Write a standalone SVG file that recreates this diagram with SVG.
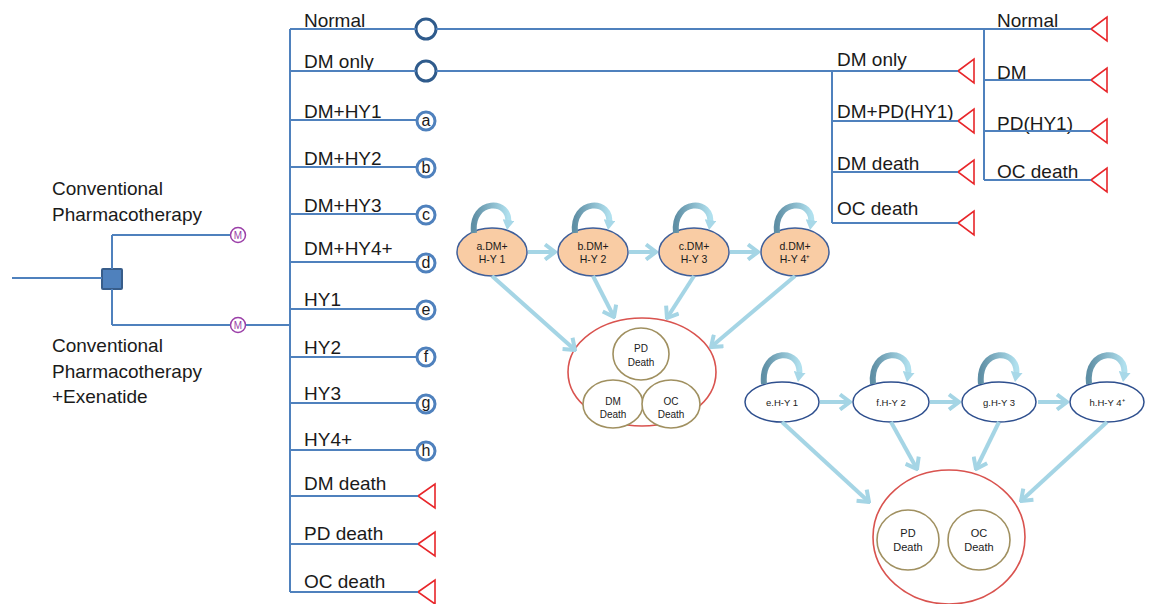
<svg xmlns="http://www.w3.org/2000/svg" width="1155" height="604" viewBox="0 0 1155 604">
<style>
.ln{stroke:#4f81bd;stroke-width:2;fill:none}
.t{font-family:"Liberation Sans",Arial,sans-serif;font-size:19px;fill:#1a1a1a}
.st{font-family:"Liberation Sans",Arial,sans-serif;font-size:10px;fill:#1a1a1a;text-anchor:middle}
.term{fill:#fff;stroke:#e8262a;stroke-width:1.6}
.chance{fill:#fff;stroke:#2f5b8c;stroke-width:3}
.lc{fill:#fff;stroke:#4f81bd;stroke-width:3}
.lt{font-family:"Liberation Sans",Arial,sans-serif;font-size:16px;fill:#1a1a1a;text-anchor:middle}
.mk{fill:#fff;stroke:#9b3fa8;stroke-width:1.5}
.mt{font-family:"Liberation Sans",Arial,sans-serif;font-size:10px;fill:#9b3fa8;text-anchor:middle}
.arr{stroke:#a5d5e5;stroke-width:4;fill:none;marker-end:url(#chev)}
.loop{stroke:url(#lg);stroke-width:6;fill:none;marker-end:url(#tri)}
.orange{fill:#f9cca4;stroke:#3f5f9a;stroke-width:1.5}
.blue{fill:#fff;stroke:#2e4f8e;stroke-width:1.5}
.big{fill:#fff;stroke:#d9534f;stroke-width:1.6}
.dth{fill:#fff;stroke:#a09060;stroke-width:1.6}
</style>
<defs>
<marker id="chev" viewBox="0 0 14 18" refX="12" refY="9" markerWidth="14" markerHeight="18" markerUnits="userSpaceOnUse" orient="auto">
<path d="M2,1.5 L12,9 L2,16.5" stroke="#a5d5e5" stroke-width="4" fill="none"/>
</marker>
<marker id="tri" viewBox="0 0 10 12" refX="4" refY="6" markerWidth="10" markerHeight="12" markerUnits="userSpaceOnUse" orient="auto">
<path d="M0,0 L10,6 L0,12 Z" fill="#a8d8e8"/>
</marker>
<linearGradient id="lg" x1="0" y1="0" x2="1" y2="0">
<stop offset="0" stop-color="#5f8fa5"/>
<stop offset="1" stop-color="#b0e0ee"/>
</linearGradient>
</defs>

<g id="decision"><rect x="102" y="269" width="20" height="20" rx="1" fill="#4f81bd" stroke="#385d8a" stroke-width="2"/></g>
<g id="label-cp"><text class="t" x="52" y="195">Conventional</text><text class="t" x="52" y="221">Pharmacotherapy</text></g>
<g id="label-cpe"><text class="t" x="52" y="352">Conventional</text><text class="t" x="52" y="378">Pharmacotherapy</text><text class="t" x="52" y="403">+Exenatide</text></g>
<g id="markov1"><circle class="mk" cx="238" cy="235" r="7.5"/><text class="mt" x="238" y="239">M</text></g>
<g id="markov2"><circle class="mk" cx="238" cy="325" r="7.5"/><text class="mt" x="238" y="329">M</text></g>

<g id="m-normal"><text class="t" x="304" y="27">Normal</text><circle class="chance" cx="426" cy="29" r="10"/></g>
<g id="m-dmonly"><text class="t" x="304" y="68">DM only</text><circle class="chance" cx="426" cy="71" r="10"/></g>
<g id="m-a"><text class="t" x="304" y="118">DM+HY1</text><circle class="lc" cx="426" cy="121" r="9"/><text class="lt" x="426" y="126">a</text></g>
<g id="m-b"><text class="t" x="304" y="165">DM+HY2</text><circle class="lc" cx="426" cy="168" r="9"/><text class="lt" x="426" y="173">b</text></g>
<g id="m-c"><text class="t" x="304" y="212">DM+HY3</text><circle class="lc" cx="426" cy="215" r="9"/><text class="lt" x="426" y="220">c</text></g>
<g id="m-d"><text class="t" x="304" y="255">DM+HY4+</text><circle class="lc" cx="426" cy="263" r="9"/><text class="lt" x="426" y="268">d</text></g>
<g id="m-e"><text class="t" x="304" y="306">HY1</text><circle class="lc" cx="426" cy="310" r="9"/><text class="lt" x="426" y="315">e</text></g>
<g id="m-f"><text class="t" x="304" y="354">HY2</text><circle class="lc" cx="426" cy="357" r="9"/><text class="lt" x="426" y="362">f</text></g>
<g id="m-g"><text class="t" x="304" y="400">HY3</text><circle class="lc" cx="426" cy="404" r="9"/><text class="lt" x="426" y="408">g</text></g>
<g id="m-h"><text class="t" x="304" y="446">HY4+</text><circle class="lc" cx="426" cy="451" r="9"/><text class="lt" x="426" y="456">h</text></g>
<g id="m-dmdeath"><text class="t" x="304" y="490">DM death</text><polygon class="term" points="418,496 435,484 435,508"/></g>
<g id="m-pddeath"><text class="t" x="304" y="540">PD death</text><polygon class="term" points="418,544 435,532 435,556"/></g>
<g id="m-ocdeath"><text class="t" x="304" y="588">OC death</text><polygon class="term" points="418,592 435,580 435,604"/></g>

<g id="r-normal"><text class="t" x="997" y="27">Normal</text><polygon class="term" points="1091,29 1107,17 1107,41"/></g>
<g id="r-dm"><text class="t" x="997" y="79">DM</text><polygon class="term" points="1091,80 1107,68 1107,92"/></g>
<g id="r-pd"><text class="t" x="997" y="130">PD(HY1)</text><polygon class="term" points="1091,131 1107,119 1107,143"/></g>
<g id="r-oc"><text class="t" x="997" y="178">OC death</text><polygon class="term" points="1091,180 1107,168 1107,192"/></g>

<g id="s-dmonly"><text class="t" x="837" y="66">DM only</text><polygon class="term" points="958,71 974,59 974,83"/></g>
<g id="s-dmpd"><text class="t" x="837" y="118">DM+PD(HY1)</text><polygon class="term" points="958,121 974,109 974,133"/></g>
<g id="s-dmdeath"><text class="t" x="837" y="170">DM death</text><polygon class="term" points="958,172 974,160 974,184"/></g>
<g id="s-ocdeath"><text class="t" x="837" y="215">OC death</text><polygon class="term" points="958,223 974,211 974,235"/></g>

<g id="n-a"><ellipse class="orange" cx="492" cy="252" rx="35" ry="24"/><text class="st" x="492" y="250" style="font-size:10.5px">a.DM+</text><text class="st" x="492" y="263" style="font-size:10.5px">H-Y 1</text></g>
<g id="n-b"><ellipse class="orange" cx="593" cy="252" rx="35" ry="24"/><text class="st" x="593" y="250" style="font-size:10.5px">b.DM+</text><text class="st" x="593" y="263" style="font-size:10.5px">H-Y 2</text></g>
<g id="n-c"><ellipse class="orange" cx="694" cy="252" rx="35" ry="24"/><text class="st" x="694" y="250" style="font-size:10.5px">c.DM+</text><text class="st" x="694" y="263" style="font-size:10.5px">H-Y 3</text></g>
<g id="n-d"><ellipse class="orange" cx="795" cy="252" rx="34" ry="24"/><text class="st" x="795" y="250" style="font-size:10.5px">d.DM+</text><text class="st" x="795" y="263" style="font-size:10.5px">H-Y 4⁺</text></g>

<g id="death1"><ellipse class="big" cx="642" cy="372" rx="74" ry="54"/>
<ellipse class="dth" cx="641" cy="354" rx="28" ry="26"/><text class="st" x="641" y="352">PD</text><text class="st" x="641" y="366">Death</text>
<ellipse class="dth" cx="613" cy="404" rx="30" ry="24"/><text class="st" x="613" y="405">DM</text><text class="st" x="613" y="418">Death</text>
<ellipse class="dth" cx="671" cy="404" rx="29" ry="24"/><text class="st" x="671" y="405">OC</text><text class="st" x="671" y="418">Death</text></g>

<g id="n-e"><ellipse class="blue" cx="782" cy="402" rx="37" ry="20"/><text class="st" x="782" y="406" style="font-size:9.5px">e.H-Y 1</text></g>
<g id="n-f"><ellipse class="blue" cx="891" cy="402" rx="38" ry="20"/><text class="st" x="891" y="406" style="font-size:9.5px">f.H-Y 2</text></g>
<g id="n-g"><ellipse class="blue" cx="999" cy="402" rx="37" ry="20"/><text class="st" x="999" y="406" style="font-size:9.5px">g.H-Y 3</text></g>
<g id="n-h"><ellipse class="blue" cx="1107" cy="402" rx="37" ry="20"/><text class="st" x="1107" y="406" style="font-size:9.5px">h.H-Y 4⁺</text></g>

<g id="death2"><ellipse class="big" cx="949" cy="537" rx="76" ry="67"/>
<ellipse class="dth" cx="908" cy="540" rx="31" ry="30"/><text class="st" x="908" y="537" style="font-size:11px">PD</text><text class="st" x="908" y="551" style="font-size:11px">Death</text>
<ellipse class="dth" cx="979" cy="540" rx="31" ry="30"/><text class="st" x="979" y="537" style="font-size:11px">OC</text><text class="st" x="979" y="551" style="font-size:11px">Death</text></g>

<g id="connectors">
<line class="ln" x1="12" y1="278" x2="102" y2="278"/>
<line class="ln" x1="112" y1="235" x2="112" y2="269"/>
<line class="ln" x1="112" y1="289" x2="112" y2="325"/>
<line class="ln" x1="112" y1="235" x2="230" y2="235"/>
<line class="ln" x1="112" y1="325" x2="230" y2="325"/>
<line class="ln" x1="246" y1="325" x2="290" y2="325"/>
<line class="ln" x1="290" y1="29" x2="290" y2="592"/>
<line class="ln" x1="290" y1="29" x2="416" y2="29"/>
<line class="ln" x1="290" y1="71" x2="416" y2="71"/>
<line class="ln" x1="290" y1="120" x2="417" y2="120"/>
<line class="ln" x1="290" y1="167" x2="417" y2="167"/>
<line class="ln" x1="290" y1="214" x2="417" y2="214"/>
<line class="ln" x1="290" y1="262" x2="417" y2="262"/>
<line class="ln" x1="290" y1="309" x2="417" y2="309"/>
<line class="ln" x1="290" y1="357" x2="417" y2="357"/>
<line class="ln" x1="290" y1="403" x2="417" y2="403"/>
<line class="ln" x1="290" y1="450" x2="417" y2="450"/>
<line class="ln" x1="290" y1="496" x2="418" y2="496"/>
<line class="ln" x1="290" y1="544" x2="418" y2="544"/>
<line class="ln" x1="290" y1="592" x2="418" y2="592"/>
<line class="ln" x1="436" y1="29" x2="1091" y2="29"/>
<line class="ln" x1="984" y1="29" x2="984" y2="180"/>
<line class="ln" x1="984" y1="80" x2="1091" y2="80"/>
<line class="ln" x1="984" y1="131" x2="1091" y2="131"/>
<line class="ln" x1="984" y1="180" x2="1091" y2="180"/>
<line class="ln" x1="436" y1="71" x2="958" y2="71"/>
<line class="ln" x1="832" y1="71" x2="832" y2="223"/>
<line class="ln" x1="832" y1="121" x2="958" y2="121"/>
<line class="ln" x1="832" y1="172" x2="958" y2="172"/>
<line class="ln" x1="832" y1="223" x2="958" y2="223"/>

<line class="arr" x1="528" y1="252" x2="555" y2="252"/>
<line class="arr" x1="629" y1="252" x2="656" y2="252"/>
<line class="arr" x1="730" y1="252" x2="758" y2="252"/>
<line class="arr" x1="492" y1="276" x2="575" y2="350"/>
<line class="arr" x1="593" y1="276" x2="614" y2="317"/>
<line class="arr" x1="694" y1="276" x2="667" y2="318"/>
<line class="arr" x1="795" y1="276" x2="711" y2="347"/>
<path class="loop" d="M474 233 C470 198,512 198,508 224"/>
<path class="loop" d="M575 233 C571 198,613 198,609 224"/>
<path class="loop" d="M676 233 C672 198,714 198,710 224"/>
<path class="loop" d="M777 233 C773 198,815 198,811 224"/>

<line class="arr" x1="820" y1="402" x2="850" y2="402"/>
<line class="arr" x1="930" y1="402" x2="959" y2="402"/>
<line class="arr" x1="1038" y1="402" x2="1067" y2="402"/>
<line class="arr" x1="782" y1="422" x2="869" y2="502"/>
<line class="arr" x1="891" y1="422" x2="917" y2="469"/>
<line class="arr" x1="999" y1="422" x2="976" y2="469"/>
<line class="arr" x1="1107" y1="422" x2="1021" y2="501"/>
<path class="loop" d="M764 384 C760 347,804 347,799 376"/>
<path class="loop" d="M873 384 C869 347,913 347,908 376"/>
<path class="loop" d="M981 384 C977 347,1021 347,1016 376"/>
<path class="loop" d="M1089 384 C1085 347,1129 347,1124 376"/>
</g>
</svg>
